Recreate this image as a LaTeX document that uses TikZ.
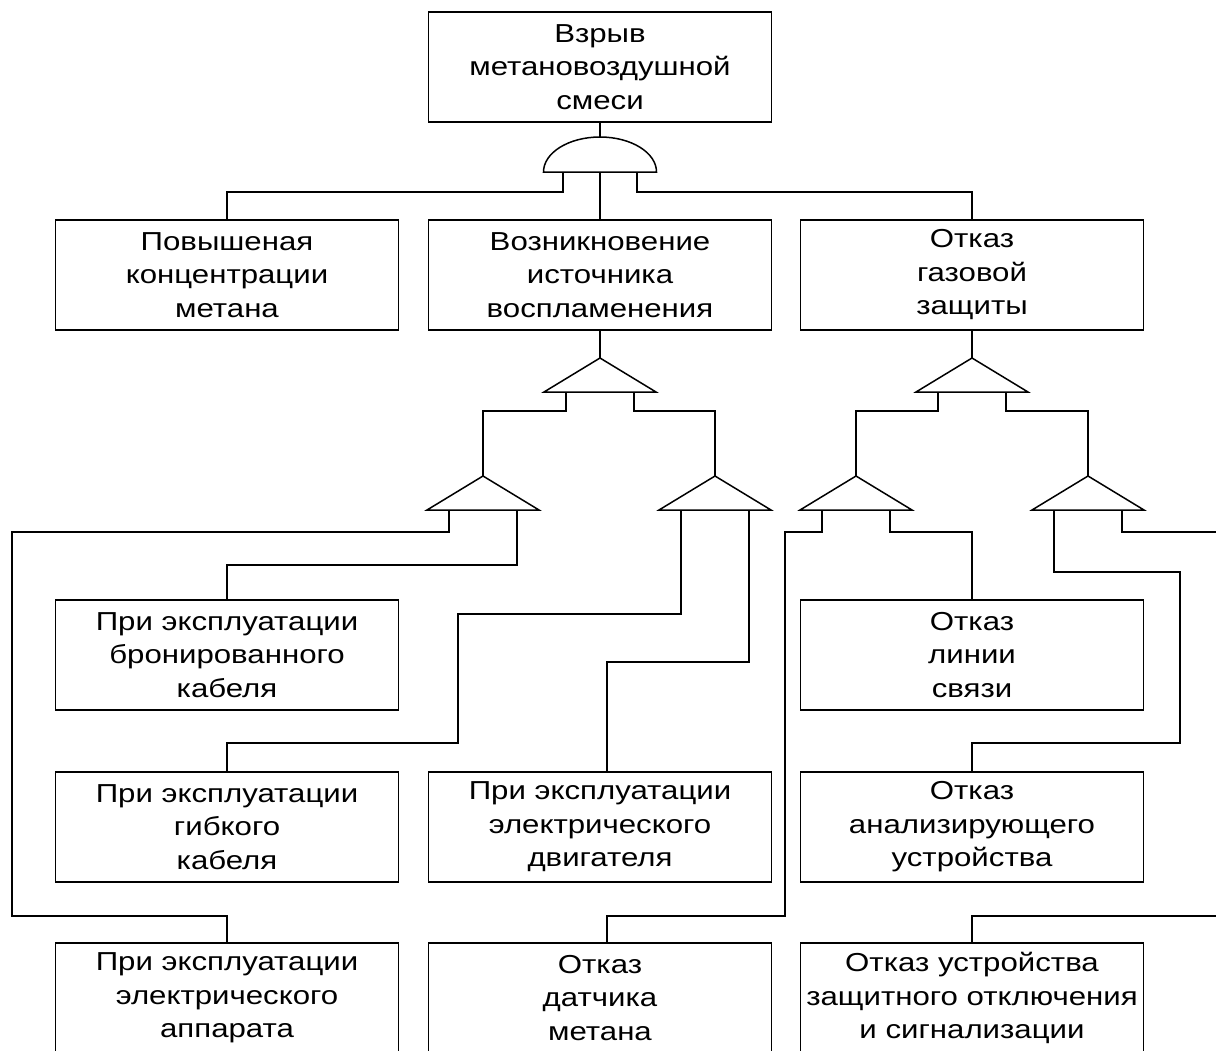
\documentclass[tikz,border=0pt]{standalone}
\usepackage{fontspec}
\setmainfont{Liberation Sans}[FakeStretch=1.2]
\usepackage{tikz}

\begin{document}
\begin{tikzpicture}[x=0.5pt, y=-0.5pt, line width=0.75pt,
    event/.style={draw, minimum width=171.5pt, minimum height=55pt, inner sep=0pt,
      align=center, font=\fontsize{13}{16.75}\selectfont}]
    \clip (0,0) rectangle (1216,1050);
    % events
    \node[event] (top) at (600,67)  {Взрыв\\метановоздушной\\смеси};
    \node[event] (pc)  at (227,275) {Повышеная\\концентрации\\метана};
    \node[event] (ii)  at (600,275) {Возникновение\\источника\\воспламенения};
    \node[event] (gz)  at (972,275) {Отказ\\газовой\\защиты};
    \node[event] (bk)  at (227,655) {При эксплуатации\\бронированного\\кабеля};
    \node[event] (ls)  at (972,655) {Отказ\\линии\\связи};
    \node[event] (gk)  at (227,827) {При эксплуатации\\гибкого\\кабеля};
    \node[event] (ed)  at (600,827) {При эксплуатации\\электрического\\двигателя};
    \node[event] (au)  at (972,827) {Отказ\\анализирующего\\устройства};
    \node[event] (ea)  at (227,998) {При эксплуатации\\электрического\\аппарата};
    \node[event] (dm)  at (600,998) {Отказ\\датчика\\метана};
    \node[event] (uz)  at (972,998) {Отказ устройства\\защитного отключения\\и сигнализации};
    % and gate
    \draw (543.5,172) arc (180:360:56.5 and 35) -- cycle;
    \coordinate (and)   at (600,137);
    \coordinate (and-l) at (563,172);
    \coordinate (and-m) at (600,172);
    \coordinate (and-r) at (637,172);
    % or gates
    \foreach \n/\x/\y in {or1/600/358, or4/972/358, or2/483/476,
                          or3/715/476, or5/856/476, or6/1088/476} {
        \coordinate (\n) at (\x,\y);
        \draw (\n) -- ++(-56,34) -- ++(112,0) -- cycle;
        \coordinate (\n-l) at ([shift={(-34,34)}]\n);
        \coordinate (\n-r) at ([shift={(34,34)}]\n);
    }
    % connectors
    \draw (top.south) -- (and);
    \draw (and-l) -- ++(0,20) -| (pc.north);
    \draw (and-m) -- (ii.north);
    \draw (and-r) -- ++(0,20) -| (gz.north);
    \draw (ii.south) -- (or1);
    \draw (gz.south) -- (or4);
    \draw (or1-l) -- ++(0,19) -| (or2);
    \draw (or1-r) -- ++(0,19) -| (or3);
    \draw (or4-l) -- ++(0,19) -| (or5);
    \draw (or4-r) -- ++(0,19) -| (or6);
    \draw (or2-l) -- ++(0,22) -| (12,916) -| (ea.north);
    \draw (or2-r) -- ++(0,55) -| (bk.north);
    \draw (or3-l) -- ++(0,104) -| (458,743) -| (gk.north);
    \draw (or3-r) -- ++(0,152) -| ([xshift=3.5pt]ed.north);
    \draw (or5-l) -- ++(0,22) -| (785,916) -| ([xshift=3.5pt]dm.north);
    \draw (or5-r) -- ++(0,22) -| (ls.north);
    \draw (or6-l) -- ++(0,62) -| (1180,743) -| (au.north);
    \draw (or6-r) -- ++(0,22) -| (1230,916) -| (uz.north);
\end{tikzpicture}
\end{document}
